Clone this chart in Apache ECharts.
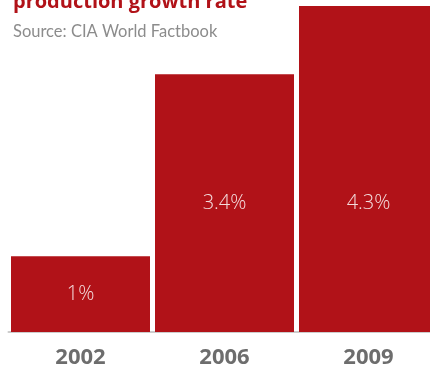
<!DOCTYPE html>
<html>
<head>
<meta charset="utf-8">
<script src="https://cdn.jsdelivr.net/npm/echarts@6/dist/echarts.min.js"></script>
<style>
html,body{margin:0;padding:0;background:#fff;overflow:hidden;}
#chart{width:441px;height:369px;}
</style>
</head>
<body>
<div id="chart"></div>
<script>
var titleText = 'production growth rate';
var subtitleText = 'Source: CIA World Factbook';
var categories = ['2002', '2006', '2009'];
var growthValues = [1, 3.4, 4.3];
var valueLabels = ['1%', '3.4%', '4.3%'];
var labelOffsets = [[0, 0], [0, 0], [0, 34]];

var chart = echarts.init(document.getElementById('chart'));
chart.setOption({
  animation: false,
  backgroundColor: '#ffffff',
  title: [{
    text: titleText,
    left: 8,
    top: -13,
    textStyle: { fontFamily: 'Open Sans', fontWeight: 'bold', fontSize: 20, color: '#b11218' }
  }, {
    text: subtitleText,
    left: 8,
    top: 18,
    textStyle: { fontFamily: 'Lato', fontWeight: 'normal', fontSize: 16.5, color: '#8c8c8c' }
  }],
  grid: { left: 8.5, top: 6, right: 0.5, bottom: 37, containLabel: false },
  xAxis: {
    type: 'category',
    data: categories,
    offset: 3,
    axisLine: { show: true, lineStyle: { color: '#cccccc', width: 2 } },
    axisTick: { show: false },
    axisLabel: { margin: 12, fontFamily: 'Open Sans', fontWeight: 'bold', fontSize: 22, color: '#6d6d6d' }
  },
  yAxis: {
    type: 'value',
    min: 0,
    max: 4.3,
    show: false,
    splitLine: { show: false }
  },
  series: [{
    type: 'bar',
    data: growthValues.map(function (v, i) {
      return { value: v, label: { offset: labelOffsets[i] } };
    }),
    barWidth: 139,
    itemStyle: { color: '#b11218' },
    label: {
      show: true,
      position: 'inside',
      formatter: function (p) { return valueLabels[p.dataIndex]; },
      fontFamily: 'Open Sans',
      fontWeight: 300,
      fontSize: 20,
      color: 'rgba(255,255,255,0.85)'
    }
  }]
});
</script>
</body>
</html>
